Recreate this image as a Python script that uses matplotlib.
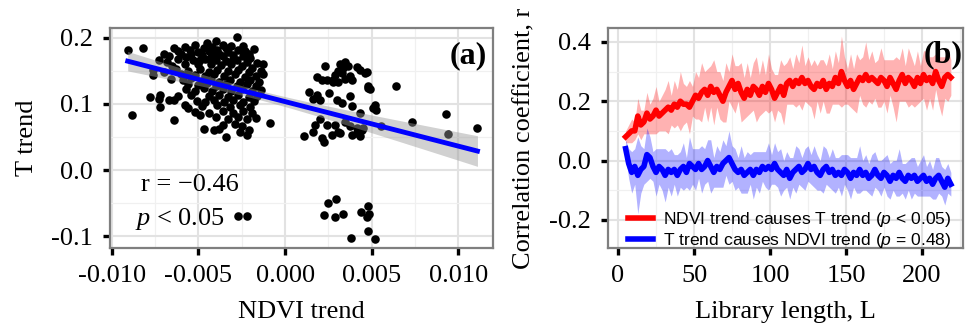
import numpy as np
import matplotlib
matplotlib.use("Agg")
import matplotlib.pyplot as plt

plt.rcParams['font.family'] = ['Liberation Serif', 'DejaVu Serif']
plt.rcParams['mathtext.fontset'] = 'custom'
plt.rcParams['mathtext.it'] = 'Liberation Serif:italic'
plt.rcParams['mathtext.rm'] = 'Liberation Serif'
plt.rcParams['mathtext.sf'] = 'Liberation Sans:italic'

# %% panel (a) data: NDVI trend vs T trend
left_cluster = [
    (-0.0028, 0.201), (-0.0040, 0.195), (-0.0045, 0.192), (-0.0052, 0.189), (-0.0036, 0.190),
    (-0.0031, 0.188), (-0.0058, 0.186), (-0.0024, 0.188), (-0.0047, 0.185), (-0.0042, 0.186),
    (-0.0064, 0.184), (-0.0055, 0.181), (-0.0050, 0.178), (-0.0044, 0.180), (-0.0039, 0.182),
    (-0.0033, 0.178), (-0.0027, 0.181), (-0.0021, 0.176), (-0.0018, 0.183), (-0.0060, 0.176),
    (-0.0048, 0.174), (-0.0041, 0.176), (-0.0036, 0.173), (-0.0030, 0.174), (-0.0024, 0.172),
    (-0.0067, 0.172), (-0.0057, 0.171),
    (-0.0073, 0.166), (-0.0068, 0.163), (-0.0062, 0.168), (-0.0053, 0.166), (-0.0046, 0.168),
    (-0.0040, 0.167), (-0.0034, 0.165), (-0.0028, 0.167), (-0.0022, 0.164), (-0.0016, 0.162),
    (-0.0013, 0.160), (-0.0058, 0.161), (-0.0050, 0.160), (-0.0043, 0.161), (-0.0037, 0.159),
    (-0.0031, 0.160), (-0.0025, 0.158), (-0.0019, 0.155), (-0.0065, 0.158),
    (-0.0076, 0.151), (-0.0070, 0.148), (-0.0063, 0.153), (-0.0056, 0.150), (-0.0049, 0.153),
    (-0.0044, 0.149), (-0.0039, 0.152), (-0.0033, 0.150), (-0.0027, 0.152), (-0.0021, 0.148),
    (-0.0014, 0.150), (-0.0076, 0.144), (-0.0060, 0.145), (-0.0052, 0.144), (-0.0046, 0.142),
    (-0.0041, 0.145), (-0.0035, 0.143), (-0.0029, 0.145), (-0.0023, 0.141), (-0.0017, 0.143),
    (-0.0066, 0.138), (-0.0059, 0.136), (-0.0054, 0.139), (-0.0048, 0.135), (-0.0043, 0.137),
    (-0.0038, 0.134), (-0.0032, 0.137), (-0.0026, 0.134), (-0.0020, 0.137), (-0.0015, 0.134),
    (-0.0013, 0.145), (-0.0056, 0.130), (-0.0050, 0.128), (-0.0045, 0.131), (-0.0040, 0.127),
    (-0.0034, 0.130), (-0.0028, 0.127), (-0.0022, 0.130), (-0.0017, 0.127),
    (-0.0072, 0.113), (-0.0062, 0.112), (-0.0057, 0.122), (-0.0052, 0.120), (-0.0047, 0.124),
    (-0.0042, 0.119), (-0.0036, 0.122), (-0.0031, 0.119), (-0.0025, 0.122), (-0.0019, 0.119),
    (-0.0014, 0.121), (-0.0054, 0.113), (-0.0044, 0.112), (-0.0038, 0.114), (-0.0033, 0.111),
    (-0.0027, 0.113), (-0.0021, 0.111), (-0.0016, 0.112),
    (-0.0073, 0.108), (-0.0064, 0.106), (-0.0058, 0.099), (-0.0051, 0.105), (-0.0046, 0.103),
    (-0.0041, 0.106), (-0.0035, 0.103), (-0.0030, 0.106), (-0.0024, 0.103), (-0.0018, 0.105),
    (-0.0048, 0.097), (-0.0039, 0.098), (-0.0032, 0.096), (-0.0026, 0.098), (-0.0020, 0.095),
    (-0.0072, 0.096), (-0.0056, 0.094), (-0.0078, 0.111), (-0.0067, 0.106),
    (-0.0052, 0.088), (-0.0044, 0.086), (-0.0036, 0.089), (-0.0030, 0.087), (-0.0024, 0.089),
    (-0.0019, 0.086), (-0.0064, 0.076), (-0.0040, 0.080), (-0.0033, 0.078), (-0.0027, 0.080),
    (-0.0022, 0.077), (-0.0017, 0.079), (-0.0049, 0.084),
    (-0.0047, 0.062), (-0.0041, 0.060), (-0.0036, 0.068), (-0.0034, 0.050), (-0.0029, 0.070),
    (-0.0025, 0.066), (-0.0021, 0.060), (-0.0022, 0.053), (-0.0026, 0.058), (-0.0038, 0.062),
    (-0.0070, 0.176), (-0.0062, 0.180), (-0.0054, 0.176), (-0.0049, 0.166), (-0.0043, 0.171),
    (-0.0038, 0.176), (-0.0034, 0.184), (-0.0030, 0.168), (-0.0023, 0.180), (-0.0020, 0.170),
]
right_cluster = [
    (0.00231, 0.158), (0.00317, 0.160), (0.00346, 0.163), (0.00336, 0.155), (0.00308, 0.150),
    (0.00327, 0.147), (0.00289, 0.144), (0.00365, 0.158), (0.00416, 0.156), (0.00460, 0.147),
    (0.00432, 0.152), (0.00187, 0.141), (0.00212, 0.137), (0.00241, 0.137), (0.00279, 0.134),
    (0.00308, 0.134), (0.00346, 0.138), (0.00384, 0.136), (0.00374, 0.142), (0.00479, 0.127),
    (0.00489, 0.123), (0.00136, 0.118), (0.00184, 0.114), (0.00164, 0.107), (0.00203, 0.106),
    (0.00256, 0.117), (0.00298, 0.106), (0.00327, 0.102), (0.00374, 0.112), (0.00384, 0.097),
    (0.00432, 0.086), (0.00518, 0.099), (0.00527, 0.091), (0.00508, 0.094), (0.00203, 0.077),
    (0.00174, 0.068), (0.00241, 0.068), (0.00289, 0.068), (0.00346, 0.072), (0.00374, 0.066),
    (0.00413, 0.063), (0.00441, 0.061), (0.00413, 0.056), (0.00384, 0.053), (0.00432, 0.052),
    (0.00308, 0.058), (0.00212, 0.048), (0.00222, 0.043), (0.00270, 0.053), (0.00317, 0.056),
    (0.00451, 0.063), (0.00277, 0.137), (0.00470, 0.149), (0.00163, 0.058), (0.00556, 0.066),
    (0.00110, 0.052), (0.00478, 0.124),
]
low_cluster = [
    (0.00250, -0.050), (0.00294, -0.044), (0.00222, -0.068), (0.00290, -0.071),
    (0.00336, -0.066), (0.00436, -0.064), (0.00476, -0.054), (0.00485, -0.067),
    (0.00474, -0.071), (0.00476, -0.092), (0.00383, -0.103), (0.00518, -0.105),
    (-0.00274, -0.070), (-0.00221, -0.070),
]
outliers = [
    (-0.00908, 0.181), (-0.00885, 0.084), (-0.00818, 0.184), (0.00642, 0.127),
    (0.00735, 0.072), (0.00930, 0.085), (0.00940, 0.054), (0.01110, 0.064),
    (-0.00089, 0.071),
]

# %% panel (b) data: CCM skill vs library length
lib_len = np.arange(5, 221, 2)
rho_ndvi_T = [
    0.08, 0.09, 0.10, 0.10, 0.15, 0.12, 0.13, 0.16, 0.14, 0.15, 0.17, 0.15,
    0.16, 0.17, 0.18, 0.17, 0.19, 0.18, 0.20, 0.19, 0.19, 0.18, 0.20, 0.22,
    0.21, 0.23, 0.24, 0.22, 0.25, 0.23, 0.24, 0.22, 0.20, 0.23, 0.25, 0.27,
    0.24, 0.26, 0.23, 0.21, 0.24, 0.22, 0.25, 0.24, 0.22, 0.25, 0.23, 0.26,
    0.24, 0.21, 0.23, 0.25, 0.22, 0.26, 0.27, 0.25, 0.27, 0.26, 0.28, 0.26,
    0.27, 0.25, 0.24, 0.26, 0.25, 0.27, 0.24, 0.26, 0.25, 0.28, 0.26, 0.30,
    0.27, 0.25, 0.27, 0.24, 0.26, 0.28, 0.27, 0.29, 0.27, 0.28, 0.27, 0.26,
    0.28, 0.27, 0.25, 0.28, 0.26, 0.24, 0.27, 0.29, 0.26, 0.28, 0.27, 0.25,
    0.28, 0.26, 0.29, 0.27, 0.28, 0.26, 0.30, 0.27, 0.25, 0.28, 0.29, 0.28,
]
hw_ndvi_T = [
    0.02, 0.03, 0.04, 0.03, 0.06, 0.05, 0.04, 0.07, 0.05, 0.06, 0.08, 0.05,
    0.06, 0.07, 0.09, 0.05, 0.08, 0.06, 0.10, 0.07, 0.06, 0.09, 0.05, 0.08,
    0.07, 0.10, 0.06, 0.09, 0.07, 0.11, 0.06, 0.08, 0.07, 0.10, 0.05, 0.09,
    0.08, 0.06, 0.10, 0.07, 0.09, 0.06, 0.08, 0.11, 0.07, 0.09, 0.06, 0.10,
    0.07, 0.08, 0.06, 0.09, 0.10, 0.07, 0.08, 0.06, 0.09, 0.07, 0.11, 0.06,
    0.08, 0.07, 0.10, 0.06, 0.09, 0.07, 0.08, 0.10, 0.06, 0.09, 0.07, 0.12,
    0.08, 0.06, 0.09, 0.07, 0.10, 0.06, 0.08, 0.11, 0.07, 0.09, 0.06, 0.08,
    0.10, 0.07, 0.09, 0.06, 0.08, 0.11, 0.07, 0.09, 0.06, 0.10, 0.08, 0.07,
    0.09, 0.06, 0.08, 0.10, 0.07, 0.09, 0.06, 0.08, 0.10, 0.07, 0.09, 0.06,
]
rho_T_ndvi = [
    0.04, -0.01, -0.04, -0.02, -0.05, -0.03, -0.02, 0.02, 0.01, -0.02, -0.04, -0.02,
    -0.03, -0.05, -0.03, -0.04, -0.03, -0.05, -0.03, -0.02, -0.04, -0.01, -0.02, -0.03,
    -0.01, -0.03, -0.02, 0.00, -0.02, -0.04, -0.02, -0.03, -0.01, 0.00, 0.01, -0.01,
    -0.03, -0.04, -0.03, -0.05, -0.04, -0.03, -0.05, -0.03, -0.04, -0.02, -0.03, -0.02,
    -0.03, -0.01, -0.03, -0.04, -0.05, -0.03, -0.06, -0.04, -0.03, -0.02, -0.04, -0.03,
    -0.01, -0.03, -0.02, -0.04, -0.05, -0.03, -0.02, -0.04, -0.03, -0.05, -0.04, -0.05,
    -0.03, -0.04, -0.06, -0.04, -0.05, -0.03, -0.05, -0.04, -0.06, -0.05, -0.03, -0.05,
    -0.06, -0.04, -0.05, -0.07, -0.05, -0.06, -0.04, -0.06, -0.07, -0.05, -0.06, -0.05,
    -0.07, -0.06, -0.05, -0.07, -0.06, -0.08, -0.06, -0.05, -0.07, -0.09, -0.06, -0.08,
]
hw_T_ndvi = [
    0.03, 0.05, 0.07, 0.06, 0.13, 0.08, 0.06, 0.09, 0.07, 0.05, 0.08, 0.06,
    0.07, 0.09, 0.06, 0.08, 0.05, 0.07, 0.06, 0.08, 0.05, 0.09, 0.06, 0.07,
    0.05, 0.08, 0.06, 0.07, 0.09, 0.05, 0.07, 0.06, 0.08, 0.05, 0.09, 0.06,
    0.07, 0.05, 0.08, 0.06, 0.07, 0.05, 0.08, 0.06, 0.07, 0.05, 0.06, 0.08,
    0.05, 0.07, 0.06, 0.08, 0.05, 0.06, 0.07, 0.05, 0.08, 0.06, 0.05, 0.07,
    0.06, 0.05, 0.07, 0.06, 0.05, 0.08, 0.06, 0.05, 0.07, 0.06, 0.05, 0.07,
    0.05, 0.06, 0.07, 0.05, 0.06, 0.08, 0.05, 0.06, 0.05, 0.07, 0.06, 0.05,
    0.06, 0.05, 0.07, 0.06, 0.05, 0.06, 0.08, 0.05, 0.06, 0.05, 0.07, 0.06,
    0.05, 0.06, 0.07, 0.05, 0.06, 0.05, 0.07, 0.06, 0.05, 0.06, 0.05, 0.04,
]

labels_b = [r'NDVI trend causes T trend ($\mathsf{p}$ < 0.05)',
            r'T trend causes NDVI trend ($\mathsf{p}$ = 0.48)']

FS = 19


def style_axes(ax):
    ax.set_facecolor('white')
    for s in ax.spines.values():
        s.set_color('#7f7f7f')
        s.set_linewidth(1.6)
    ax.grid(True, which='major', color='#e2e2e2', lw=1.5, zorder=0)
    ax.grid(True, which='minor', color='#f0f0f0', lw=0.9, zorder=0)
    ax.set_axisbelow(True)
    ax.tick_params(which='major', direction='out', length=5, width=2.4,
                   color='black', labelsize=FS, pad=7)
    ax.tick_params(which='minor', length=0)


fig = plt.figure(figsize=(9.66, 3.29), dpi=100)

# %% (a)
ax1 = fig.add_axes([0.1139, 0.2462, 0.3965, 0.6687])
style_axes(ax1)
pts = np.array(left_cluster + right_cluster + low_cluster + outliers)
ndvi_trend, t_trend = pts[:, 0], pts[:, 1]
ax1.scatter(ndvi_trend, t_trend, s=38, color='black', lw=0, zorder=3)

# linear fit + 95% band, like geom_smooth(method='lm')
b1, b0 = np.polyfit(ndvi_trend, t_trend, 1)
n = len(ndvi_trend)
resid = t_trend - (b0 + b1 * ndvi_trend)
s_err = np.sqrt(np.sum(resid ** 2) / (n - 2))
xx = np.linspace(ndvi_trend.min(), ndvi_trend.max(), 100)
se = s_err * np.sqrt(1 / n + (xx - ndvi_trend.mean()) ** 2 /
                     np.sum((ndvi_trend - ndvi_trend.mean()) ** 2))
yy = b0 + b1 * xx
ax1.fill_between(xx, yy - 1.97 * se, yy + 1.97 * se, color='#999999',
                 alpha=0.45, lw=0, zorder=4)
ax1.plot(xx, yy, color='#0000ff', lw=3.5, zorder=5)

ax1.set_xlim(-0.0101, 0.0120)
ax1.set_ylim(-0.118, 0.215)
ax1.set_xticks([-0.010, -0.005, 0.000, 0.005, 0.010])
ax1.set_xticklabels(['-0.010', '-0.005', '0.000', '0.005', '0.010'])
ax1.set_xticks([-0.0075, -0.0025, 0.0025, 0.0075], minor=True)
ax1.set_yticks([-0.1, 0.0, 0.1, 0.2])
ax1.set_yticklabels(['-0.1', '0.0', '0.1', '0.2'])
ax1.set_yticks([-0.05, 0.05, 0.15], minor=True)
ax1.set_xlabel('NDVI trend', fontsize=FS, labelpad=10)
ax1.set_ylabel('T trend', fontsize=FS, labelpad=10)
ax1.text(0.985, 0.94, '(a)', transform=ax1.transAxes, ha='right', va='top',
         fontsize=23, fontweight='bold')
ax1.text(0.08, 0.285, 'r = \u22120.46', transform=ax1.transAxes, fontsize=FS,
         ha='left', va='center')
ax1.text(0.065, 0.13, r'$p$ < 0.05', transform=ax1.transAxes, fontsize=FS,
         ha='left', va='center')

# %% (b)
ax2 = fig.add_axes([0.6294, 0.2462, 0.3675, 0.6687])
style_axes(ax2)
r1 = np.array(rho_ndvi_T)
h1 = np.array(hw_ndvi_T)
r2 = np.array(rho_T_ndvi)
h2 = np.array(hw_T_ndvi)
ax2.fill_between(lib_len, r1 - h1, r1 + h1, color='#ff0000', alpha=0.3, lw=0)
ax2.fill_between(lib_len, r2 - h2, r2 + h2, color='#0000ff', alpha=0.3, lw=0)
ax2.plot(lib_len, r1, color='#ff0000', lw=4, label=labels_b[0])
ax2.plot(lib_len, r2, color='#0000ff', lw=4, label=labels_b[1])
ax2.set_xlim(-6.6, 227)
ax2.set_ylim(-0.295, 0.447)
ax2.set_xticks([0, 50, 100, 150, 200])
ax2.set_xticks([25, 75, 125, 175, 225], minor=True)
ax2.set_yticks([-0.2, 0.0, 0.2, 0.4])
ax2.set_yticklabels(['-0.2', '0.0', '0.2', '0.4'])
ax2.set_yticks([-0.1, 0.1, 0.3], minor=True)
ax2.set_xlabel('Library length, L', fontsize=FS, labelpad=10)
ax2.set_ylabel('Correlation coefficient, r', fontsize=FS, labelpad=10)
ax2.text(1.0, 0.945, '(b)', transform=ax2.transAxes, ha='right', va='top',
         fontsize=23, fontweight='bold')
ax2.legend(loc='lower left', bbox_to_anchor=(0.027, -0.057), frameon=False,
           prop={'family': 'Liberation Sans', 'size': 12.6},
           handlelength=1.4, handletextpad=0.6, labelspacing=0.12,
           borderaxespad=0.2)

fig.savefig('out.png', dpi=100)
